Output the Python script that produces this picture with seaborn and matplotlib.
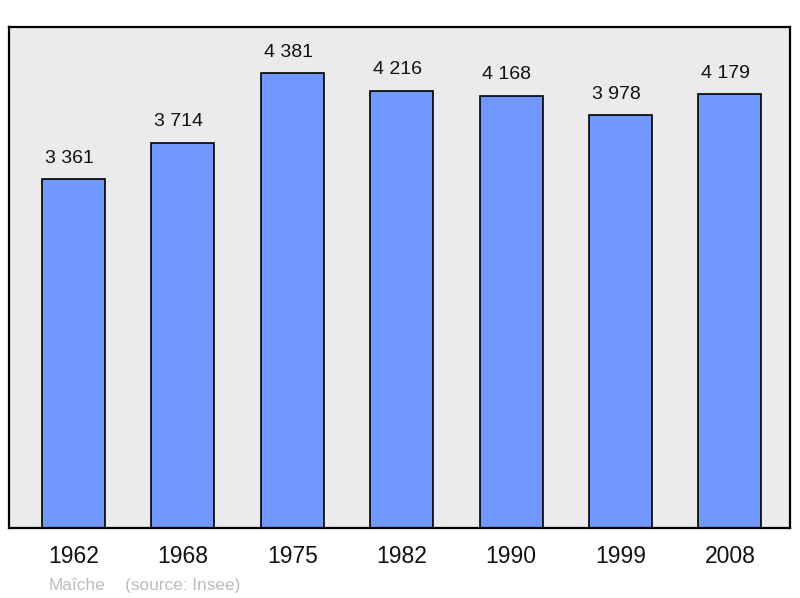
import pandas as pd
import matplotlib
matplotlib.use("Agg")
import matplotlib.pyplot as plt
import seaborn as sns

years = ["1962", "1968", "1975", "1982", "1990", "1999", "2008"]
population = [3361, 3714, 4381, 4216, 4168, 3978, 4179]
commune = "Maîche"
source = "(source: Insee)"

df = pd.DataFrame({"year": years, "population": population})

sns.set_style("white")
plt.rcParams["font.family"] = ["Liberation Sans", "DejaVu Sans"]

fig = plt.figure(figsize=(8, 5.98), dpi=100)
ax = fig.add_axes([0.01125, 0.117, 0.97625, 0.838])
ax.set_facecolor("#ebebeb")

sns.barplot(data=df, x="year", y="population", color="#7098ff", saturation=1,
            width=0.576, edgecolor="black", linewidth=1.2, ax=ax)

# value labels above the bars, with a space as thousands separator
for bar, v in zip(ax.patches, population):
    ax.annotate(f"{v:,}".replace(",", " "),
                (bar.get_x() + bar.get_width() / 2, bar.get_height()),
                xytext=(-3, 9), textcoords="offset points",
                ha="center", va="bottom", fontsize=14, color="#111111")

ax.set_xlim(-0.59, 6.55)
ax.set_ylim(0, 4830)
ax.set_yticks([])
ax.set_xlabel("")
ax.set_ylabel("")
ax.tick_params(axis="x", length=0, labelsize=16.5, pad=12, colors="#111111")
for s in ax.spines.values():
    s.set_visible(True)
    s.set_color("black")
    s.set_linewidth(1.6)

fig.text(49 / 800, 1 - 590 / 598, commune, fontsize=12.4, color="#bdbdbd")
fig.text(125 / 800, 1 - 590 / 598, source, fontsize=12.4, color="#bdbdbd")

fig.savefig("out.png", dpi=100)
